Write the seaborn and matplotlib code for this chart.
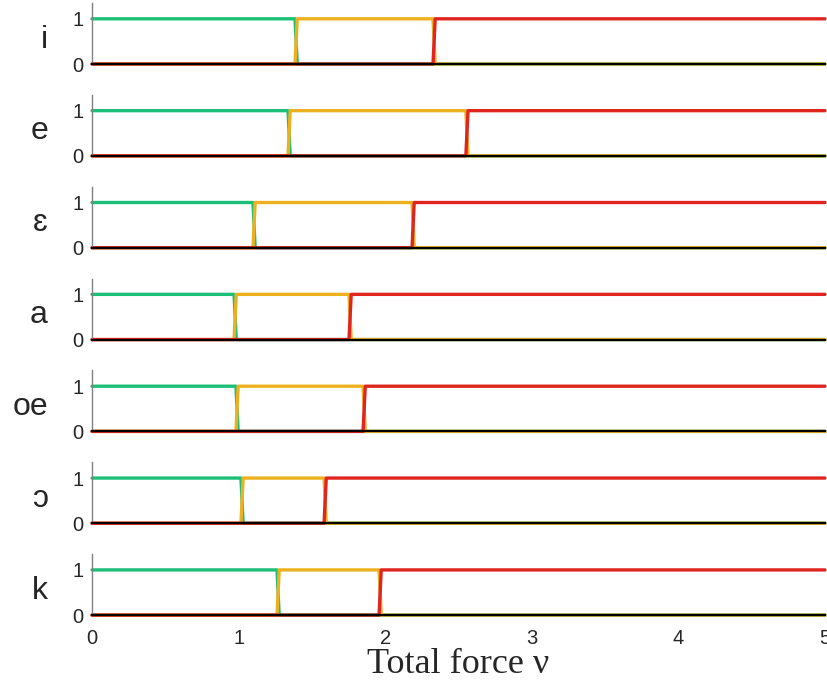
import matplotlib
matplotlib.use("Agg")
import matplotlib.pyplot as plt
import seaborn as sns
import pandas as pd

# one row per vowel / consonant
labels = ["i", "e", "\u025b", "a", "oe", "\u0254", "k"]
# force where green -> yellow, and yellow -> red
first_switch = [1.385, 1.337, 1.098, 0.969, 0.982, 1.016, 1.262]
second_switch = [2.326, 2.550, 2.183, 1.753, 1.849, 1.583, 1.958]
x_ticks = [0, 1, 2, 3, 4, 5]

green = "#1cbf78"
yellow = "#edb120"
red = "#e0251f"
step = 0.015

sns.set_style("white")
plt.rcParams["font.family"] = ["Liberation Sans", "DejaVu Sans"]

fig = plt.figure(figsize=(8.28, 6.84), dpi=100)
W, H = 828, 684
left, right = 92, 825
ax_h = 61
zero_rows = [64 + 91.85 * k for k in range(len(labels))]

for k, name in enumerate(labels):
    y0 = zero_rows[k]
    ax = fig.add_axes([left / W, 1 - y0 / H, (right - left) / W, ax_h / H])
    t1, t2 = first_switch[k], second_switch[k]

    g = pd.DataFrame({"x": [0, t1, t1 + step, 5], "y": [1, 1, 0, 0]})
    yl = pd.DataFrame({"x": [0, t1, t1 + step, t2, t2 + step, 5],
                       "y": [0, 0, 1, 1, 0, 0]})
    r = pd.DataFrame({"x": [0, t2, t2 + step, 5], "y": [0, 0, 1, 1]})

    for df, c in [(g, green), (yl, yellow), (r, red)]:
        sns.lineplot(data=df, x="x", y="y", ax=ax, color=c, lw=2.4,
                     clip_on=False, estimator=None, sort=False)

    ax.set_xlim(0, 5)
    ax.set_ylim(0, 1.35)
    ax.set_yticks([0, 1])
    ax.set_yticklabels(["0", "1"], fontsize=14.5, color="#262626")
    ax.set_xlabel("")
    ax.set_ylabel("")
    for s in ["top", "right"]:
        ax.spines[s].set_visible(False)
    ax.spines["left"].set_color("#808080")
    ax.spines["left"].set_linewidth(1.0)
    ax.spines["bottom"].set_color("black")
    ax.spines["bottom"].set_linewidth(1.6)
    ax.tick_params(axis="y", direction="in", length=0, pad=6)
    ax.text(-44 / (right - left), 0.27, name, transform=ax.transAxes,
            fontsize=23, ha="right", va="baseline", color="#262626")

    if k == len(labels) - 1:
        ax.set_xticks(x_ticks)
        ax.set_xticklabels([str(v) for v in x_ticks], fontsize=14.5, color="#262626")
        ax.tick_params(axis="x", direction="in", length=5, color="#555555", pad=10)
        ax.set_xlabel("Total force \u03bd", fontsize=26, family="Liberation Serif",
                      labelpad=0)
    else:
        ax.set_xticks([])

fig.savefig("out.png", dpi=100)
